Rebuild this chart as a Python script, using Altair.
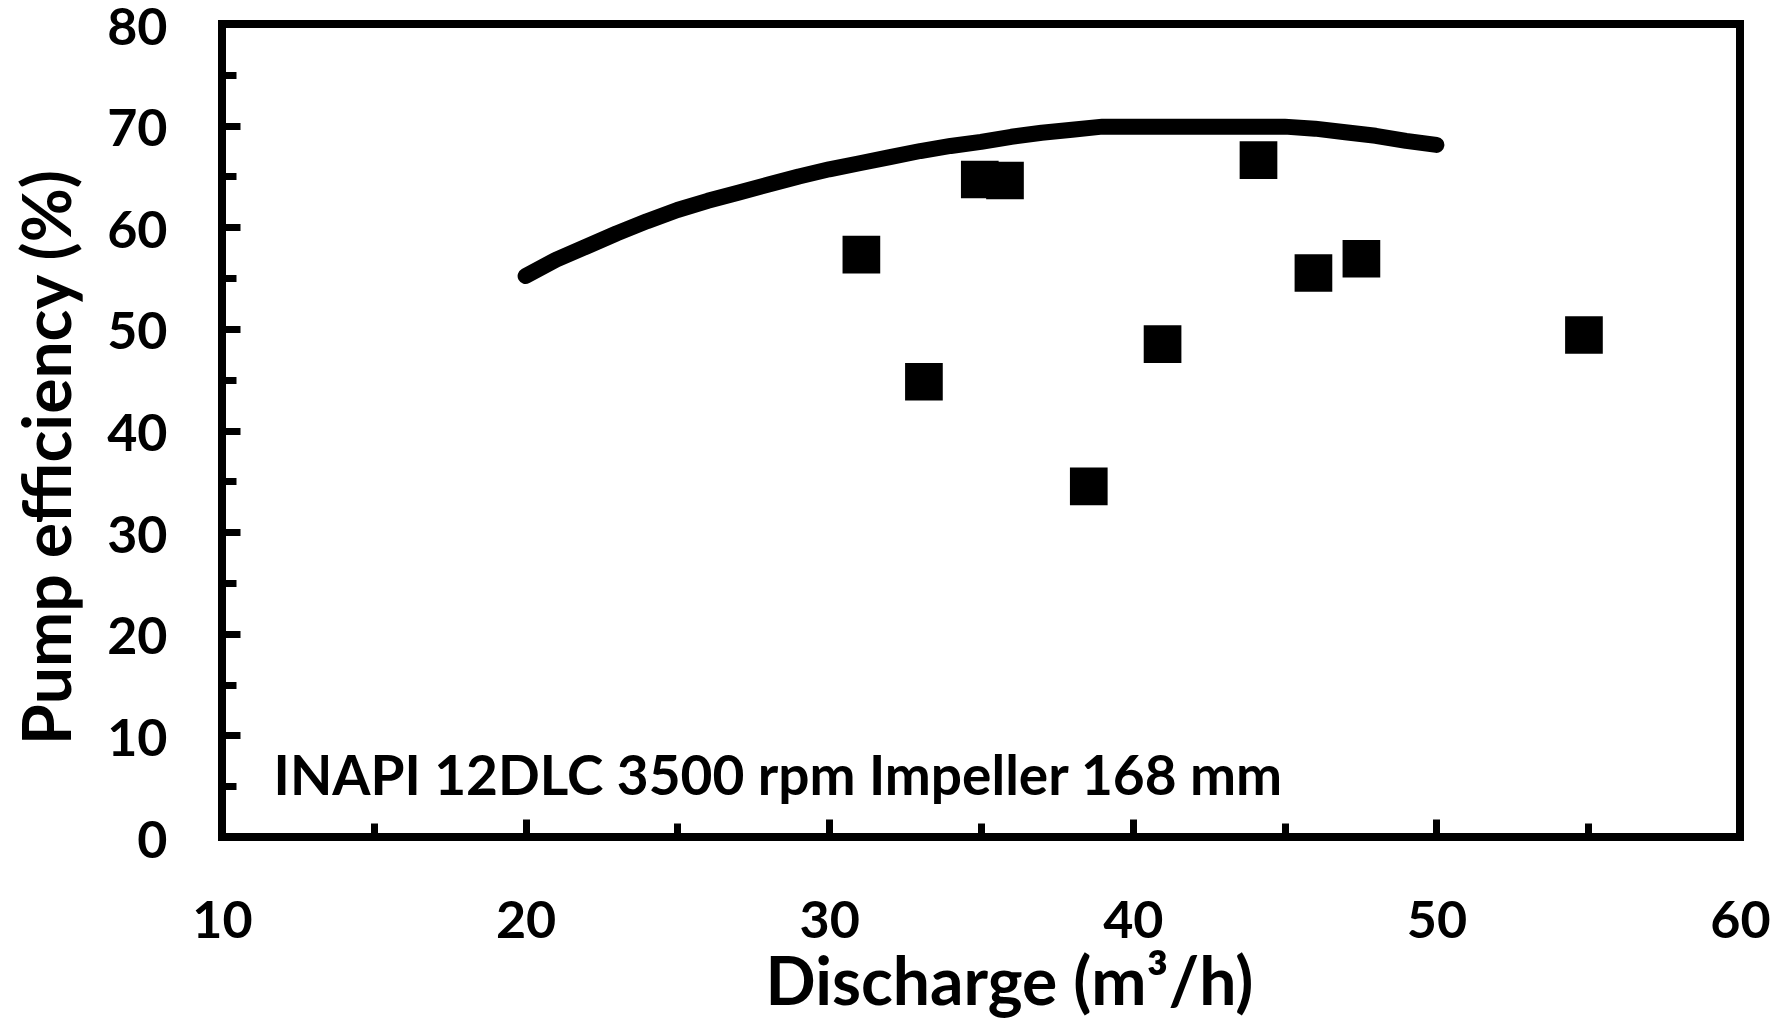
import altair as alt
import pandas as pd

# Manufacturer curve (discharge m3/h, efficiency %)
curve_q = [20, 21, 22, 23, 24, 25, 26, 27, 28, 29, 30, 31, 32, 33, 34, 35,
           36, 37, 38, 39, 40, 41, 42, 43, 44, 45, 46, 47, 48, 49, 50]
curve_eff = [55.2, 56.8, 58.1, 59.4, 60.6, 61.7, 62.6, 63.4, 64.2, 65.0, 65.7,
             66.3, 66.9, 67.5, 68.0, 68.4, 68.9, 69.3, 69.6, 69.9, 69.9, 69.9,
             69.9, 69.9, 69.9, 69.9, 69.7, 69.35, 69.0, 68.5, 68.1]

# Measured points
meas_q = [31.06, 33.12, 34.96, 35.79, 38.55, 40.98, 44.14, 45.95, 47.53, 54.86]
meas_eff = [57.3, 44.8, 64.7, 64.6, 34.5, 48.5, 66.6, 55.5, 56.9, 49.4]

# Axis ticks
x_major = [10, 20, 30, 40, 50, 60]
x_minor = [15, 25, 35, 45, 55]
y_major = [0, 10, 20, 30, 40, 50, 60, 70, 80]
y_minor = [5, 15, 25, 35, 45, 55, 65, 75]

# Annotation
note_text = ["INAPI 12DLC 3500 rpm Impeller 168 mm"]
note_q = [11.7]
note_eff = [4.1]

FONT = "Lato"

curve_df = pd.DataFrame({"q": curve_q, "eff": curve_eff})
meas_df = pd.DataFrame({"q": meas_q, "eff": meas_eff})
note_df = pd.DataFrame({"q": note_q, "eff": note_eff, "label": note_text})

xs = alt.Scale(domain=[10, 60], nice=False, zero=False)
ys = alt.Scale(domain=[0, 80], nice=False, zero=False)

line = alt.Chart(curve_df).mark_line(
    color="black", strokeWidth=16, strokeCap="round", strokeJoin="round"
).encode(
    x=alt.X("q:Q", scale=xs, axis=alt.Axis(
        orient="bottom", values=x_major, tickSize=18, offset=-18,
        labelPadding=59, title="Discharge (m³/h)",
        titleX=787, titleY=185, titleBaseline="alphabetic", titleAlign="center")),
    y=alt.Y("eff:Q", scale=ys, axis=alt.Axis(
        orient="left", values=y_major, tickSize=18, offset=-18,
        labelPadding=55, labelOffset=4, title="Pump efficiency (%)",
        titleX=-170, titleY=433, titleBaseline="alphabetic", titleAlign="center",
        titleAngle=270)),
)

points = alt.Chart(meas_df).mark_point(
    shape="square", filled=True, size=1420, color="black", opacity=1
).encode(
    x=alt.X("q:Q", scale=xs, axis=alt.Axis(
        orient="bottom", values=x_minor, tickSize=14, offset=-14,
        labels=False, title=None)),
    y=alt.Y("eff:Q", scale=ys, axis=alt.Axis(
        orient="left", values=y_minor, tickSize=14, offset=-14,
        labels=False, title=None)),
)

note = alt.Chart(note_df).mark_text(
    align="left", baseline="alphabetic", font=FONT, fontWeight="bold",
    fontSize=55, color="black"
).encode(
    x=alt.X("q:Q", scale=xs, axis=None),
    y=alt.Y("eff:Q", scale=ys, axis=None),
    text="label:N",
)

chart = alt.layer(line, points, note).resolve_axis(
    x="independent", y="independent"
).properties(
    width=1518, height=813,
    autosize=alt.AutoSizeParams(type="none"),
    padding={"left": 214, "top": 16, "right": 40, "bottom": 182},
).configure_view(
    stroke="black", strokeWidth=8
).configure_axis(
    domain=False, grid=False, tickColor="black", tickWidth=7,
    labelFont=FONT, labelFontWeight="bold", labelFontSize=52, labelColor="black",
    titleFont=FONT, titleFontWeight="bold", titleFontSize=66, titleColor="black",
    labelFlush=False, labelOverlap=False,
)

chart.save("out.html", embed_options={"renderer": "svg", "actions": False})
